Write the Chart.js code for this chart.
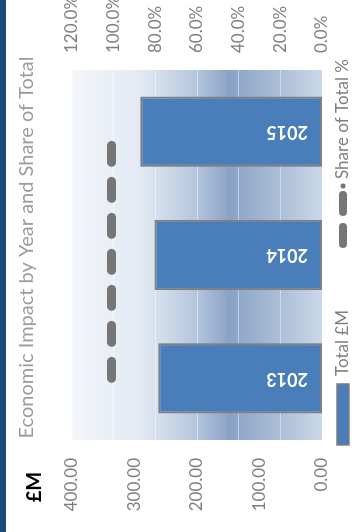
<!DOCTYPE html>
<html>
<head>
<meta charset="utf-8">
<script src="https://cdn.jsdelivr.net/npm/chart.js@4.4.1/dist/chart.umd.min.js"></script>
<style>
  html, body { margin: 0; padding: 0; background: #fff; overflow: hidden; }
  /* the chart is drawn upright and then turned a quarter turn to the left */
  #wrap { position: absolute; left: 0; top: 0; width: 532px; height: 352px;
          transform-origin: 0 0; transform: translateY(532px) rotate(-90deg); }
</style>
</head>
<body>
<div id="wrap"><canvas id="chart" width="532" height="352"></canvas></div>
<script>
var years = ['2013', '2014', '2015'];
var totalM = [262, 268, 291];
var sharePct = [101, 101, 101];
var leftTicks = [0, 100, 200, 300, 400];
var rightTicks = [0, 20, 40, 60, 80, 100, 120];

var grey = '#7f7f7f';
var titleText = 'Economic Impact by Year and Share of Total';

var decor = {
    id: 'decor',
    beforeDraw: function (chart) {
        var ctx = chart.ctx, a = chart.chartArea;
        ctx.save();
        ctx.fillStyle = '#ffffff';
        ctx.fillRect(0, 0, chart.width, chart.height);
        ctx.fillStyle = '#1c4c7c';
        ctx.fillRect(0, 0, chart.width, 6);

        var g = ctx.createLinearGradient(0, a.top, 0, a.bottom);
        g.addColorStop(0, '#f3f6fa');
        g.addColorStop(0.28, '#e2e9f3');
        g.addColorStop(0.5, '#b4c5dc');
        g.addColorStop(0.63, '#8aa2c5');
        g.addColorStop(0.67, '#90a8c9');
        g.addColorStop(0.82, '#aabdd6');
        g.addColorStop(1, '#cad8e9');
        ctx.fillStyle = g;
        ctx.fillRect(a.left, a.top, a.right - a.left, a.bottom - a.top);
        ctx.restore();
    },
    afterDatasetsDraw: function (chart) {
        var ctx = chart.ctx;
        var meta = chart.getDatasetMeta(0);
        ctx.save();
        ctx.font = 'bold 18px Lato';
        ctx.fillStyle = '#ffffff';
        ctx.textAlign = 'left';
        ctx.textBaseline = 'middle';
        meta.data.forEach(function (bar, i) {
            ctx.save();
            ctx.translate(bar.x, bar.base - 14);
            ctx.rotate(-Math.PI / 2);
            ctx.fillText(years[i], 0, 0);
            ctx.restore();
        });
        ctx.restore();
    },
    afterDraw: function (chart) {
        var ctx = chart.ctx;
        ctx.save();

        // title
        ctx.font = '20px Lato';
        ctx.fillStyle = '#9c9c9c';
        ctx.textAlign = 'center';
        ctx.textBaseline = 'middle';
        ctx.fillText(titleText, 284.5, 27);

        // axis unit above the left scale
        ctx.font = 'bold 20px Lato';
        ctx.fillStyle = '#000000';
        ctx.fillText('£M', 45, 35);

        // legend
        var ds = chart.data.datasets;
        ctx.font = '17px Lato';
        var w1 = ctx.measureText(ds[0].label).width;
        var w2 = ctx.measureText(ds[1].label).width;
        var total = 61 + 8 + w1 + 62 + 64 + 5 + w2;
        var x = 280 - total / 2, y = 343;

        ctx.fillStyle = ds[0].backgroundColor;
        ctx.fillRect(x, y - 6, 61, 12);
        ctx.strokeStyle = grey;
        ctx.lineWidth = 1.5;
        ctx.strokeRect(x, y - 6, 61, 12);

        ctx.fillStyle = grey;
        ctx.textAlign = 'left';
        ctx.fillText(ds[0].label, x + 69, y);

        var sx = x + 69 + w1 + 62;
        ctx.strokeStyle = ds[1].borderColor;
        ctx.lineWidth = 8;
        ctx.lineCap = 'round';
        ctx.beginPath();
        ctx.moveTo(sx + 4, y); ctx.lineTo(sx + 21, y);
        ctx.moveTo(sx + 36, y); ctx.lineTo(sx + 53, y);
        ctx.stroke();
        ctx.fillStyle = ds[1].borderColor;
        ctx.beginPath();
        ctx.arc(sx + 62, y, 2.5, 0, Math.PI * 2);
        ctx.fill();

        ctx.fillStyle = grey;
        ctx.fillText(ds[1].label, sx + 69, y);
        ctx.restore();
    }
};

var ctx = document.getElementById('chart').getContext('2d');
var chart = new Chart(ctx, {
    type: 'bar',
    data: {
        labels: years,
        datasets: [{
            label: 'Total £M',
            data: totalM,
            yAxisID: 'y',
            backgroundColor: '#4a7ebb',
            borderColor: grey,
            borderWidth: 2,
            borderSkipped: false,
            barPercentage: 0.57,
            categoryPercentage: 1
        }, {
            type: 'line',
            label: 'Share of Total %',
            data: sharePct,
            yAxisID: 'y1',
            borderColor: '#767676',
            borderWidth: 9,
            borderDash: [17, 19],
            borderCapStyle: 'round',
            pointRadius: 0,
            fill: false
        }]
    },
    options: {
        responsive: false,
        animation: false,
        layout: { padding: { left: 0, right: 0, top: 72, bottom: 30 } },
        plugins: {
            legend: { display: false },
            tooltip: { enabled: false },
            title: { display: false }
        },
        scales: {
            x: { display: false },
            y: {
                position: 'left',
                min: 0,
                max: 400,
                afterFit: function (s) { s.width = 92; },
                afterBuildTicks: function (s) { s.ticks = leftTicks.map(function (v) { return { value: v }; }); },
                grid: { display: false, drawTicks: false },
                border: { display: false },
                ticks: {
                    padding: 18,
                    color: grey,
                    font: { family: 'Lato', size: 17 },
                    callback: function (v) { return Number(v).toFixed(2); }
                }
            },
            y1: {
                position: 'right',
                min: 0,
                max: 120,
                afterFit: function (s) { s.width = 70; },
                afterBuildTicks: function (s) { s.ticks = rightTicks.map(function (v) { return { value: v }; }); },
                grid: { color: 'rgba(255,255,255,0.45)', drawTicks: false },
                border: { display: false },
                ticks: {
                    padding: 17,
                    color: grey,
                    font: { family: 'Lato', size: 17 },
                    callback: function (v) { return Number(v).toFixed(1) + '%'; }
                }
            }
        }
    },
    plugins: [decor]
});
</script>
</body>
</html>
